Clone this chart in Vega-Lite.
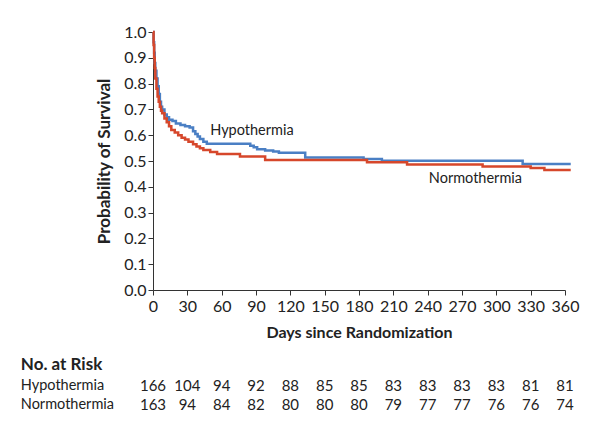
{
  "$schema": "https://vega.github.io/schema/vega-lite/v6.json",
  "padding": {"left": 20, "top": 24, "right": 10, "bottom": 5},
  "background": "white",
  "config": {
    "font": "Lato",
    "view": {"stroke": null},
    "axis": {"grid": false, "domainColor": "#333", "tickColor": "#333", "labelColor": "#222", "titleColor": "#222", "labelFont": "Lato", "titleFont": "Lato", "labelFontSize": 16, "titleFontSize": 16, "titleFontWeight": "bold", "tickSize": 5, "labelFontWeight": "normal", "labelOverlap": false},
    "text": {"font": "Lato", "color": "#222"},
    "concat": {"spacing": 15}
  },
  "datasets": {
    "surv": [
      {"group": "Hypothermia", "day": 0, "surv": 1.0},
      {"group": "Hypothermia", "day": 0.5, "surv": 0.96},
      {"group": "Hypothermia", "day": 1, "surv": 0.92},
      {"group": "Hypothermia", "day": 1.5, "surv": 0.88},
      {"group": "Hypothermia", "day": 2, "surv": 0.85},
      {"group": "Hypothermia", "day": 3, "surv": 0.82},
      {"group": "Hypothermia", "day": 4, "surv": 0.79},
      {"group": "Hypothermia", "day": 5, "surv": 0.76},
      {"group": "Hypothermia", "day": 6, "surv": 0.73},
      {"group": "Hypothermia", "day": 7, "surv": 0.71},
      {"group": "Hypothermia", "day": 8, "surv": 0.70},
      {"group": "Hypothermia", "day": 10, "surv": 0.68},
      {"group": "Hypothermia", "day": 12, "surv": 0.67},
      {"group": "Hypothermia", "day": 14, "surv": 0.66},
      {"group": "Hypothermia", "day": 17, "surv": 0.655},
      {"group": "Hypothermia", "day": 20, "surv": 0.645},
      {"group": "Hypothermia", "day": 24, "surv": 0.64},
      {"group": "Hypothermia", "day": 28, "surv": 0.635},
      {"group": "Hypothermia", "day": 32, "surv": 0.63},
      {"group": "Hypothermia", "day": 35, "surv": 0.615},
      {"group": "Hypothermia", "day": 37, "surv": 0.605},
      {"group": "Hypothermia", "day": 39, "surv": 0.595},
      {"group": "Hypothermia", "day": 41, "surv": 0.585},
      {"group": "Hypothermia", "day": 44, "surv": 0.575},
      {"group": "Hypothermia", "day": 47, "surv": 0.567},
      {"group": "Hypothermia", "day": 85, "surv": 0.559},
      {"group": "Hypothermia", "day": 88, "surv": 0.553},
      {"group": "Hypothermia", "day": 91, "surv": 0.546},
      {"group": "Hypothermia", "day": 98, "surv": 0.541},
      {"group": "Hypothermia", "day": 105, "surv": 0.537},
      {"group": "Hypothermia", "day": 110, "surv": 0.532},
      {"group": "Hypothermia", "day": 133, "surv": 0.514},
      {"group": "Hypothermia", "day": 184, "surv": 0.508},
      {"group": "Hypothermia", "day": 200, "surv": 0.501},
      {"group": "Hypothermia", "day": 323, "surv": 0.488},
      {"group": "Hypothermia", "day": 365, "surv": 0.488},
      {"group": "Normothermia", "day": 0, "surv": 1.0},
      {"group": "Normothermia", "day": 0.5, "surv": 0.95},
      {"group": "Normothermia", "day": 1, "surv": 0.90},
      {"group": "Normothermia", "day": 1.5, "surv": 0.86},
      {"group": "Normothermia", "day": 2, "surv": 0.82},
      {"group": "Normothermia", "day": 3, "surv": 0.78},
      {"group": "Normothermia", "day": 4, "surv": 0.75},
      {"group": "Normothermia", "day": 5, "surv": 0.73},
      {"group": "Normothermia", "day": 6, "surv": 0.71},
      {"group": "Normothermia", "day": 7, "surv": 0.695},
      {"group": "Normothermia", "day": 8, "surv": 0.685},
      {"group": "Normothermia", "day": 10, "surv": 0.665},
      {"group": "Normothermia", "day": 12, "surv": 0.65},
      {"group": "Normothermia", "day": 14, "surv": 0.635},
      {"group": "Normothermia", "day": 16, "surv": 0.62},
      {"group": "Normothermia", "day": 19, "surv": 0.61},
      {"group": "Normothermia", "day": 22, "surv": 0.60},
      {"group": "Normothermia", "day": 25, "surv": 0.59},
      {"group": "Normothermia", "day": 28, "surv": 0.583},
      {"group": "Normothermia", "day": 31, "surv": 0.575},
      {"group": "Normothermia", "day": 35, "surv": 0.565},
      {"group": "Normothermia", "day": 38, "surv": 0.556},
      {"group": "Normothermia", "day": 41, "surv": 0.549},
      {"group": "Normothermia", "day": 44, "surv": 0.543},
      {"group": "Normothermia", "day": 50, "surv": 0.535},
      {"group": "Normothermia", "day": 56, "surv": 0.527},
      {"group": "Normothermia", "day": 76, "surv": 0.517},
      {"group": "Normothermia", "day": 98, "surv": 0.504},
      {"group": "Normothermia", "day": 187, "surv": 0.495},
      {"group": "Normothermia", "day": 222, "surv": 0.486},
      {"group": "Normothermia", "day": 288, "surv": 0.479},
      {"group": "Normothermia", "day": 330, "surv": 0.473},
      {"group": "Normothermia", "day": 342, "surv": 0.465},
      {"group": "Normothermia", "day": 365, "surv": 0.465}
    ],
    "labels": [
      {"label": "Hypothermia", "day": 50, "surv": 0.617},
      {"label": "Normothermia", "day": 241, "surv": 0.431}
    ],
    "risk": [
      {"group": "Hypothermia", "day": 0, "n": 166},
      {"group": "Hypothermia", "day": 30, "n": 104},
      {"group": "Hypothermia", "day": 60, "n": 94},
      {"group": "Hypothermia", "day": 90, "n": 92},
      {"group": "Hypothermia", "day": 120, "n": 88},
      {"group": "Hypothermia", "day": 150, "n": 85},
      {"group": "Hypothermia", "day": 180, "n": 85},
      {"group": "Hypothermia", "day": 210, "n": 83},
      {"group": "Hypothermia", "day": 240, "n": 83},
      {"group": "Hypothermia", "day": 270, "n": 83},
      {"group": "Hypothermia", "day": 300, "n": 83},
      {"group": "Hypothermia", "day": 330, "n": 81},
      {"group": "Hypothermia", "day": 360, "n": 81},
      {"group": "Normothermia", "day": 0, "n": 163},
      {"group": "Normothermia", "day": 30, "n": 94},
      {"group": "Normothermia", "day": 60, "n": 84},
      {"group": "Normothermia", "day": 90, "n": 82},
      {"group": "Normothermia", "day": 120, "n": 80},
      {"group": "Normothermia", "day": 150, "n": 80},
      {"group": "Normothermia", "day": 180, "n": 80},
      {"group": "Normothermia", "day": 210, "n": 79},
      {"group": "Normothermia", "day": 240, "n": 77},
      {"group": "Normothermia", "day": 270, "n": 77},
      {"group": "Normothermia", "day": 300, "n": 76},
      {"group": "Normothermia", "day": 330, "n": 76},
      {"group": "Normothermia", "day": 360, "n": 74}
    ]
  },
  "resolve": {"scale": {"x": "independent", "y": "independent"}},
  "vconcat": [
    {
      "width": 412,
      "height": 258,
      "encoding": {
        "x": {"field": "day", "type": "quantitative", "scale": {"domain": [0, 360], "nice": false, "zero": true},
          "axis": {"title": "Days since Randomization", "values": [0, 30, 60, 90, 120, 150, 180, 210, 240, 270, 300, 330, 360], "labelOverlap": false, "labelPadding": 3, "titlePadding": 10, "labelFlush": false}},
        "y": {"field": "surv", "type": "quantitative", "scale": {"domain": [0, 1], "nice": false},
          "axis": {"title": "Probability of Survival", "titleFontSize": 17, "values": [0, 0.1, 0.2, 0.3, 0.4, 0.5, 0.6, 0.7, 0.8, 0.9, 1.0], "labelOverlap": false, "format": ".1f", "labelPadding": 2, "titlePadding": 10}}
      },
      "layer": [
        {
          "data": {"name": "surv"},
          "mark": {"type": "line", "interpolate": "step-after", "strokeWidth": 2.5},
          "encoding": {
            "color": {"field": "group", "type": "nominal", "scale": {"domain": ["Hypothermia", "Normothermia"], "range": ["#4a7fc4", "#d6472b"]}, "legend": null}
          }
        },
        {
          "data": {"name": "labels"},
          "mark": {"type": "text", "align": "left", "baseline": "middle", "fontSize": 14.5},
          "encoding": {
            "text": {"field": "label"}
          }
        }
      ]
    },
    {
      "width": 412,
      "height": 38,
      "data": {"name": "risk"},
      "mark": {"type": "text", "align": "center", "baseline": "middle", "fontSize": 15},
      "encoding": {
        "x": {"field": "day", "type": "quantitative", "scale": {"domain": [0, 360], "nice": false}, "axis": null},
        "y": {"field": "group", "type": "nominal", "sort": ["Hypothermia", "Normothermia"],
          "axis": {"title": "No. at Risk", "domain": false, "ticks": false, "labelAlign": "left", "labelPadding": 132.7, "labelFontSize": 14.5, "titleAngle": 0, "titleAlign": "left", "titleBaseline": "middle", "titleX": -132.7, "titleY": -11.5, "titleFontSize": 17}},
        "text": {"field": "n", "type": "quantitative"}
      }
    }
  ]
}
